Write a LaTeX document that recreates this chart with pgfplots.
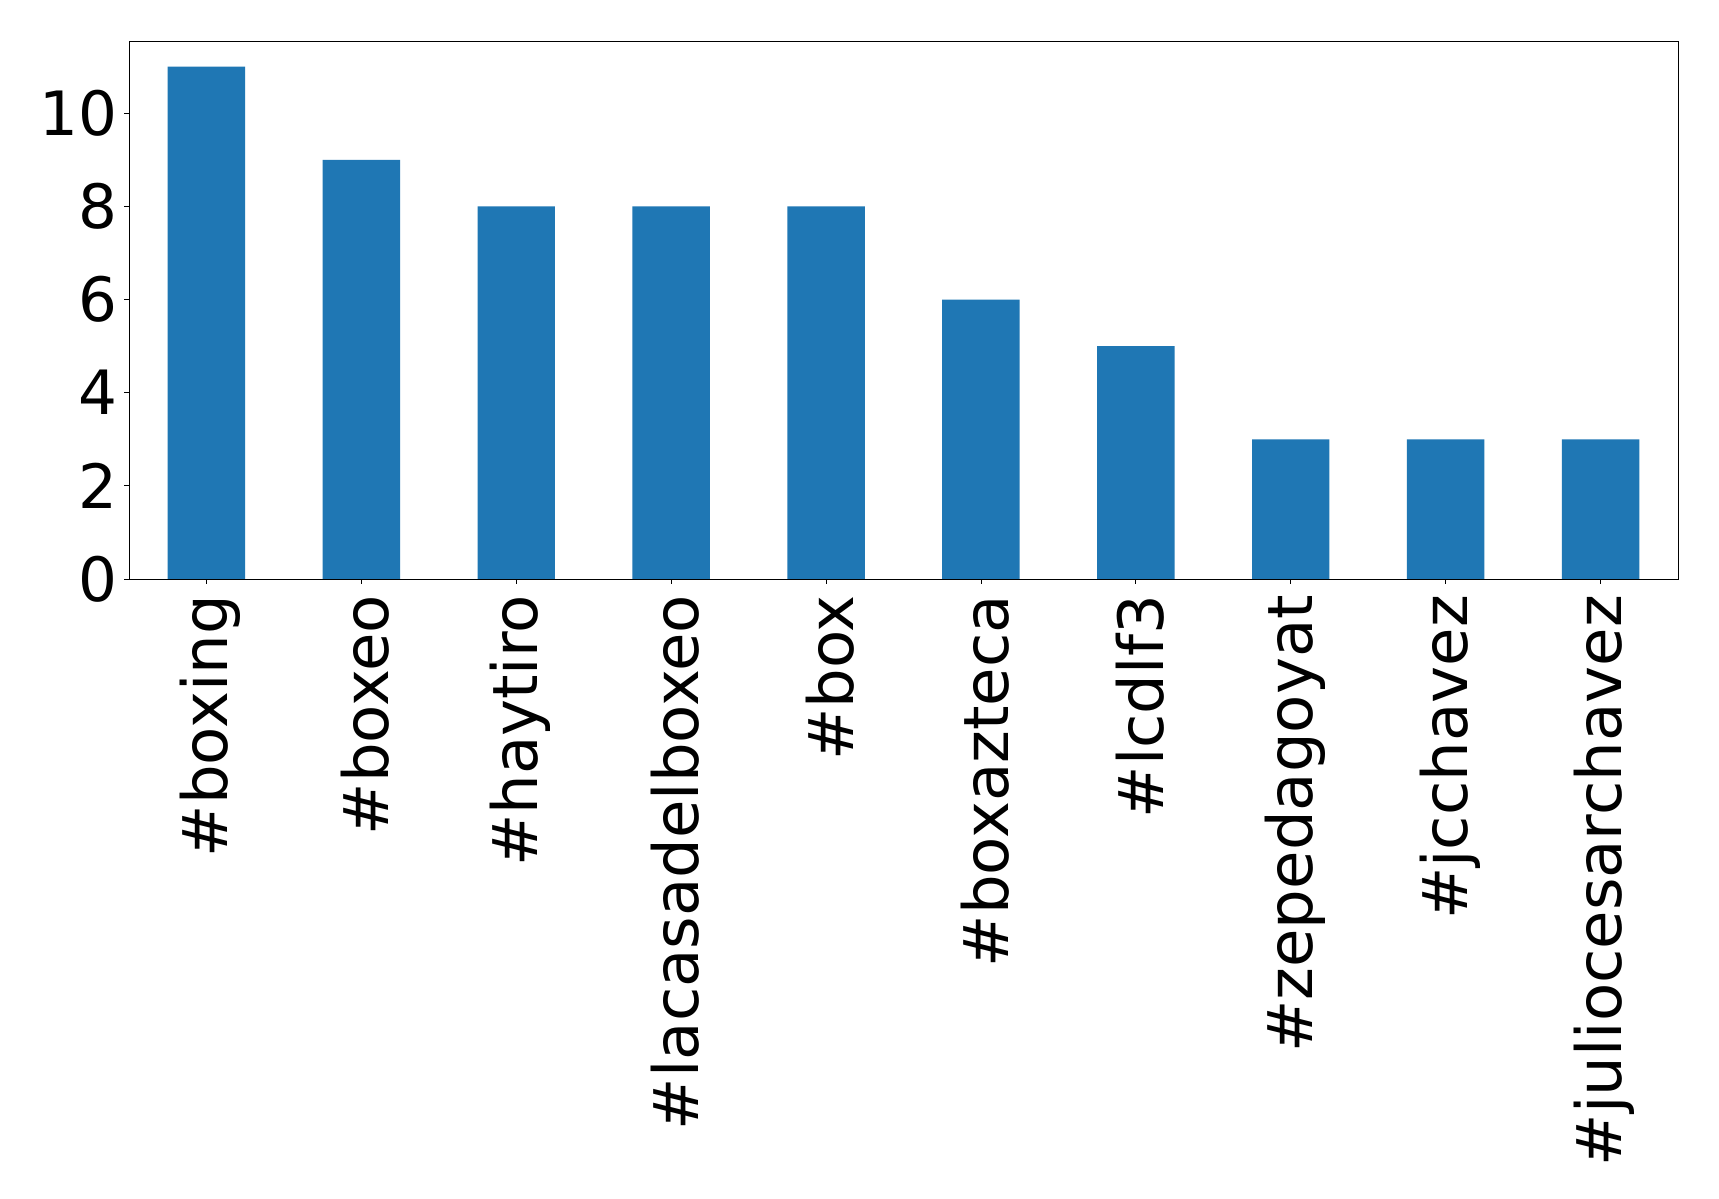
\documentclass[border=0pt]{standalone}
\usepackage{pgfplots}
\pgfplotsset{compat=1.18}
\usepackage{fontspec}
\setmainfont{DejaVu Sans}
\definecolor{barblue}{HTML}{1F77B4}
\begin{document}
\begin{tikzpicture}
\useasboundingbox (-92.88pt,-446.4pt) rectangle (1144.8pt,416.88pt);
\begin{axis}[
  scale only axis,
  width=1115.28pt, height=387.36pt,
  at={(0,0)}, anchor=south west,
  xmin=-0.5, xmax=9.5, ymin=0, ymax=11.55,
  xtick={0,...,9},
  xticklabels={\#boxing,\#boxeo,\#haytiro,\#lacasadelboxeo,\#box,\#boxazteca,\#lcdlf3,\#zepedagoyat,\#jcchavez,\#juliocesarchavez},
  ytick={0,2,4,6,8,10},
  tick align=outside,
  major tick length=3.5pt,
  tick style={black, line width=0.6pt},
  axis line style={line width=0.6pt},
  xtick pos=bottom, ytick pos=left,
  /pgf/number format/assume math mode=true,
  xticklabel style={font=\fontsize{45}{54}\selectfont, rotate=90, anchor=east, inner sep=0pt, xshift=-8pt, yshift=-3pt},
  yticklabel style={font=\fontsize{44}{53}\selectfont, anchor=east, inner sep=0pt, xshift=-4.5pt},
  axis background/.style={fill=white},
]
\addplot[ybar, bar width=0.5, fill=barblue, draw=none, bar shift=0pt] coordinates {
(0,11) (1,9) (2,8) (3,8) (4,8) (5,6) (6,5) (7,3) (8,3) (9,3)
};
\end{axis}
\end{tikzpicture}
\end{document}
